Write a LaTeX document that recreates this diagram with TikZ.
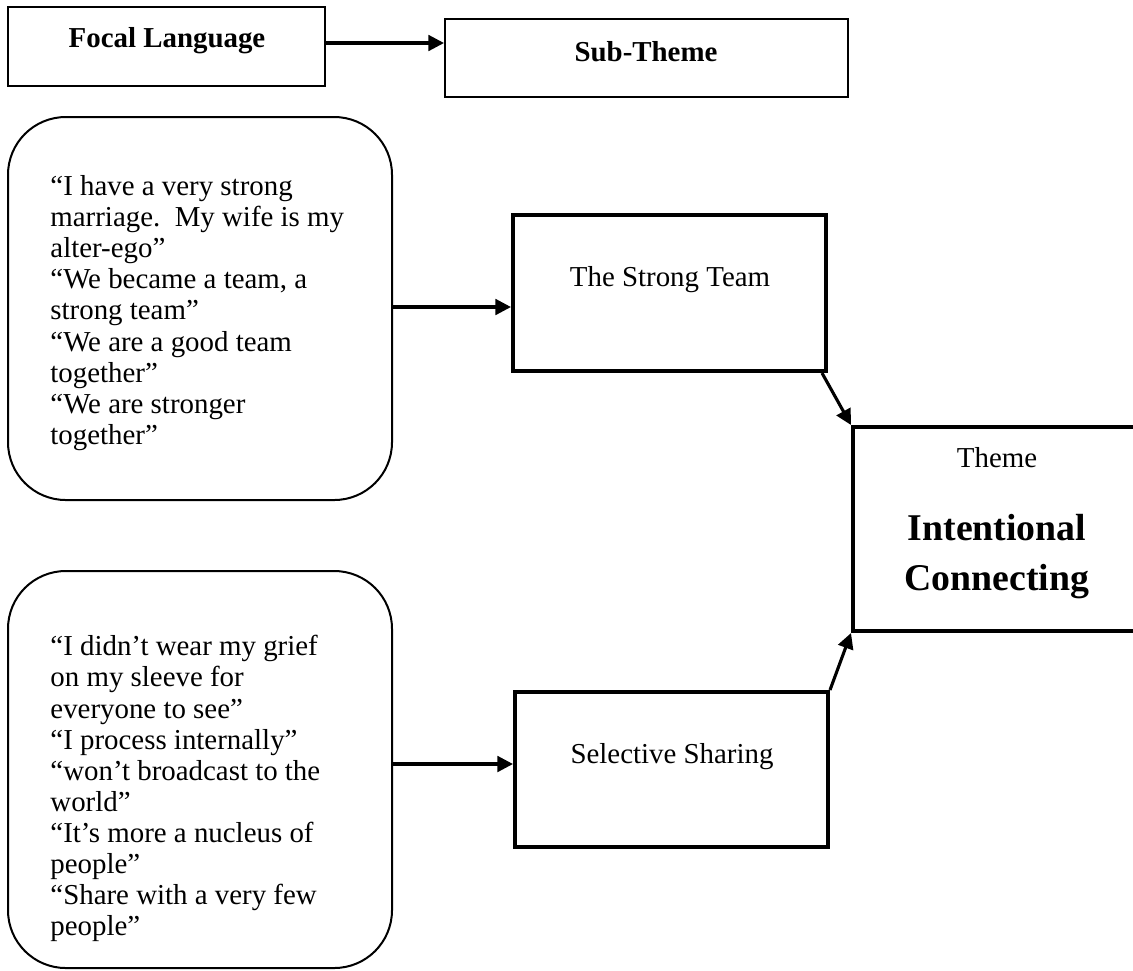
\documentclass[tikz,border=0pt]{standalone}
\usepackage{fontspec}
\setmainfont{Liberation Serif}
\usetikzlibrary{arrows.meta,fit}
\begin{document}
\begin{tikzpicture}[x=0.45pt,y=-0.45pt,
  thinbox/.style={draw,line width=0.9pt,inner sep=0pt},
  thickbox/.style={draw,line width=1.8pt,inner sep=0pt},
  quotebox/.style={draw,line width=0.9pt,inner sep=0pt,rounded corners=26pt},
  link/.style={line width=1.4pt,-{Triangle[length=7pt,width=7pt]}},
  body/.style={font=\fontsize{13}{14}\selectfont,inner sep=0pt},
  headtext/.style={font=\fontsize{13}{14}\selectfont\bfseries,inner sep=0pt},
  bigtext/.style={font=\fontsize{17}{22.5}\selectfont\bfseries,inner sep=0pt,align=center}]
\useasboundingbox (0,0) rectangle (1133,970);

% header boxes
\node[thinbox,fit={(8,7) (325,86)}] (focal) {};
\node[headtext] (focaltxt) at (167,41) {Focal Language};
\node[thinbox,fit={(445,19) (848,97)}] (sub) {};
\node[headtext] (subtxt) at (646,52) {Sub-Theme};
\draw[link] (focal.east |- 0,43) -- (sub.west |- 0,43);

% quotation boxes
\node[quotebox,fit={(8,117) (392,500)}] (q1) {};
\node[body,align=left,anchor=north west] (q1txt) at (50,175) {%
“I have a very strong\\
marriage.\ \ My wife is my\\
alter-ego”\\
“We became a team, a\\
strong team”\\
“We are a good team\\
together”\\
“We are stronger\\
together”};

\node[quotebox,fit={(8,571) (392,968)}] (q2) {};
\node[body,align=left,anchor=north west] (q2txt) at (50,635) {%
“I didn’t wear my grief\\
on my sleeve for\\
everyone to see”\\
“I process internally”\\
“won’t broadcast to the\\
world”\\
“It’s more a nucleus of\\
people”\\
“Share with a very few\\
people”};

% sub-theme boxes
\node[thickbox,fit={(513,215) (826,371)}] (st) {};
\node[body] (sttxt) at (670,280) {The Strong Team};
\node[thickbox,fit={(515,692) (828,847)}] (ss) {};
\node[body] (sstxt) at (672,757) {Selective Sharing};

% theme box
\node[thickbox,fit={(853,427) (1145,631)}] (theme) {};
\node[body] (themelbl) at (997,458) {Theme};
\node[bigtext] (themetxt) at (997,557) {Intentional\\Connecting};

% connectors
\draw[link] (q1.east |- 0,307) -- (st.west |- 0,307);
\draw[link] (q2.east |- 0,764) -- (ss.west |- 0,764);
\draw[link] ([xshift=-2.7pt]st.south east) -- (theme.north west);
\draw[link] (ss.north east) -- (theme.south west);
\end{tikzpicture}
\end{document}
